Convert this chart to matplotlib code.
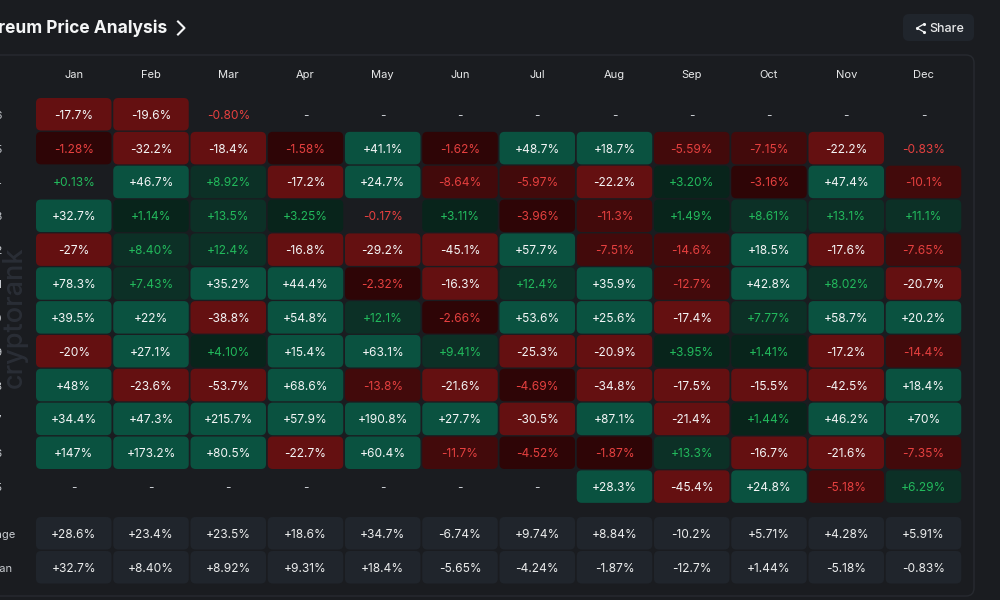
import matplotlib
matplotlib.use('Agg')
import matplotlib.pyplot as plt
from matplotlib.patches import FancyBboxPatch

plt.rcParams['font.family'] = ['Inter', 'DejaVu Sans']

months = ['Jan', 'Feb', 'Mar', 'Apr', 'May', 'Jun', 'Jul', 'Aug', 'Sep', 'Oct', 'Nov', 'Dec']
years = ['2026', '2025', '2024', '2023', '2022', '2021', '2020', '2019', '2018', '2017', '2016', '2015']

# monthly returns as printed, None is a dash
r2026 = ['-17.7%', '-19.6%', '-0.80%', None, None, None, None, None, None, None, None, None]
r2025 = ['-1.28%', '-32.2%', '-18.4%', '-1.58%', '+41.1%', '-1.62%', '+48.7%', '+18.7%', '-5.59%', '-7.15%', '-22.2%', '-0.83%']
r2024 = ['+0.13%', '+46.7%', '+8.92%', '-17.2%', '+24.7%', '-8.64%', '-5.97%', '-22.2%', '+3.20%', '-3.16%', '+47.4%', '-10.1%']
r2023 = ['+32.7%', '+1.14%', '+13.5%', '+3.25%', '-0.17%', '+3.11%', '-3.96%', '-11.3%', '+1.49%', '+8.61%', '+13.1%', '+11.1%']
r2022 = ['-27%', '+8.40%', '+12.4%', '-16.8%', '-29.2%', '-45.1%', '+57.7%', '-7.51%', '-14.6%', '+18.5%', '-17.6%', '-7.65%']
r2021 = ['+78.3%', '+7.43%', '+35.2%', '+44.4%', '-2.32%', '-16.3%', '+12.4%', '+35.9%', '-12.7%', '+42.8%', '+8.02%', '-20.7%']
r2020 = ['+39.5%', '+22%', '-38.8%', '+54.8%', '+12.1%', '-2.66%', '+53.6%', '+25.6%', '-17.4%', '+7.77%', '+58.7%', '+20.2%']
r2019 = ['-20%', '+27.1%', '+4.10%', '+15.4%', '+63.1%', '+9.41%', '-25.3%', '-20.9%', '+3.95%', '+1.41%', '-17.2%', '-14.4%']
r2018 = ['+48%', '-23.6%', '-53.7%', '+68.6%', '-13.8%', '-21.6%', '-4.69%', '-34.8%', '-17.5%', '-15.5%', '-42.5%', '+18.4%']
r2017 = ['+34.4%', '+47.3%', '+215.7%', '+57.9%', '+190.8%', '+27.7%', '-30.5%', '+87.1%', '-21.4%', '+1.44%', '+46.2%', '+70%']
r2016 = ['+147%', '+173.2%', '+80.5%', '-22.7%', '+60.4%', '-11.7%', '-4.52%', '-1.87%', '+13.3%', '-16.7%', '-21.6%', '-7.35%']
r2015 = [None, None, None, None, None, None, None, '+28.3%', '-45.4%', '+24.8%', '-5.18%', '+6.29%']
rows = [r2026, r2025, r2024, r2023, r2022, r2021, r2020, r2019, r2018, r2017, r2016, r2015]

average = ['+28.6%', '+23.4%', '+23.5%', '+18.6%', '+34.7%', '-6.74%', '+9.74%', '+8.84%', '-10.2%', '+5.71%', '+4.28%', '+5.91%']
median = ['+32.7%', '+8.40%', '+8.92%', '+9.31%', '+18.4%', '-5.65%', '-4.24%', '-1.87%', '-12.7%', '+1.44%', '-5.18%', '-0.83%']

BG = '#1a1c20'
CELL = '#20252c'
GREENS = ['#08241b', '#0c3026', '#0a5240']
REDS = ['#2e0506', '#420a0b', '#641011']
X0, PITCH_X, W = 36, 77.25, 75.5
Y0, PITCH_Y, H = 98, 33.85, 32.5


def cell(ax, col, y, text, face, color):
    x = X0 + col * PITCH_X
    if face:
        ax.add_patch(FancyBboxPatch((x + 4, y + 4), W - 8, H - 8, boxstyle='round,pad=4,rounding_size=5',
                                    fc=face, ec='none'))
    ax.text(x + W / 2, y + H / 2 + 1.5, text, color=color, fontsize=8.6, ha='center', va='center')


def style(label):
    v = abs(float(label.strip('%')))
    shades = GREENS if label[0] == '+' else REDS
    text_c = '#22b95c' if label[0] == '+' else '#e5403f'
    if v < 1:
        return None, text_c
    if v < 5:
        return shades[0], text_c
    if v < 15:
        return shades[1], text_c
    return shades[2], '#f4f5f6'


fig = plt.figure(figsize=(10, 6), dpi=100, facecolor=BG)
ax = fig.add_axes([0, 0, 1, 1])
ax.set_xlim(0, 1000)
ax.set_ylim(600, 0)
ax.axis('off')

ax.text(167, 28, 'Ethereum Price Analysis', color='#f4f5f6', fontsize=12.5, fontweight='bold', ha='right', va='center')
ax.plot([178, 184.5, 178], [21.5, 28, 34.5], color='#f4f5f6', lw=1.5)

# card border
ax.add_patch(FancyBboxPatch((-20, 55), 994, 541, boxstyle='round,pad=0,rounding_size=8', fc='none', ec='#272a30', lw=1))

# share button
ax.add_patch(FancyBboxPatch((903, 14), 71, 27, boxstyle='round,pad=0,rounding_size=6', fc=CELL, ec='none'))
ax.plot([924, 917, 924], [24, 28, 32], color='#f4f5f6', lw=0.9)
ax.scatter([924, 917, 924], [24, 28, 32], s=5, color='#f4f5f6', lw=0, zorder=3)
ax.text(947, 28.5, 'Share', color='#e8e9ea', fontsize=9, fontweight='medium', ha='center', va='center')

ax.text(15, 317, 'cryptorank', color='#2a2e36', fontsize=19.5, fontweight='medium', rotation=90, ha='center', va='center')

for c, m in enumerate(months):
    ax.text(X0 + c * PITCH_X + W / 2, 75.5, m, color='#e8e9ea', fontsize=8, ha='center', va='center')

for r, (year, vals) in enumerate(zip(years, rows)):
    y = Y0 + r * PITCH_Y
    ax.text(2, y + H / 2 + 1.5, year, color='#c9ccd1', fontsize=8, ha='right', va='center')
    for c, label in enumerate(vals):
        if label is None:
            cell(ax, c, y, '-', None, '#c9ccd1')
        else:
            face, color = style(label)
            cell(ax, c, y, label, face, color)

for name, vals, y, lab_x in [('Average', average, 517, 16), ('Median', median, 551, 12)]:
    ax.text(lab_x, y + H / 2 + 1.5, name, color='#c9ccd1', fontsize=8, ha='right', va='center')
    for c, label in enumerate(vals):
        cell(ax, c, y, label, CELL, '#eceded')

fig.savefig('out.png', dpi=100, facecolor=BG)
